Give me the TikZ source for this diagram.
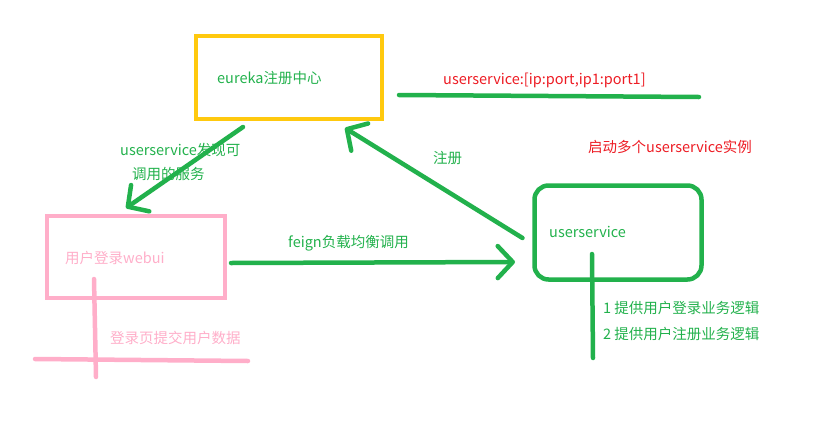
\documentclass[tikz,border=0pt]{standalone}
\usepackage{fontspec}
\setmainfont{Noto Sans CJK SC}
\usetikzlibrary{arrows.meta}
\definecolor{EurekaGreen}{HTML}{22B14C}
\definecolor{EurekaYellow}{HTML}{FFC90E}
\definecolor{EurekaPink}{HTML}{FFAEC9}
\definecolor{EurekaRed}{HTML}{ED1C24}

\begin{document}
\begin{tikzpicture}[x=1pt,y=-1pt,
    every node/.style={font=\fontsize{14.5}{17}\selectfont},
    box/.style={draw=#1,line width=4.5pt,outer sep=0pt},
    stroke/.style={#1,line width=4.5pt,line cap=round},
    flow/.style={stroke=EurekaGreen,-{Straight Barb[round,length=15pt,width=32pt]}},
    tag/.style={anchor=west,inner sep=0pt,text=#1}]
    \useasboundingbox (0,0) rectangle (815,429);

    \node[box=EurekaYellow,minimum width=186pt,minimum height=83pt] (eureka) at (289,77.5) {};
    \node[box=EurekaPink,minimum width=178pt,minimum height=82pt] (webui) at (136,257) {};
    \node[box=EurekaGreen,rounded corners=14pt,minimum width=167pt,minimum height=94pt] (usersvc) at (618,232.5) {};

    \node[tag=EurekaGreen] (eurekalabel) at (217,78) {eureka注册中心};
    \node[tag=EurekaPink] (webuilabel) at (65,258) {用户登录webui};
    \node[tag=EurekaGreen] (usersvclabel) at (549,232) {userservice};

    % registry list
    \node[tag=EurekaRed] (reglist) at (443,80) {userservice:[ip:port,ip1:port1]};
    \draw[stroke=EurekaGreen] (399,95) -- (699,97);
    \node[tag=EurekaRed] (instances) at (588,147) {启动多个userservice实例};

    % connectors
    \draw[flow] ([xshift=-46pt,yshift=-8pt]eureka.south) -- ([xshift=-10pt,yshift=8pt]webui.north);
    \node[tag=EurekaGreen] (discover) at (120,150) {userservice发现可};
    \node[tag=EurekaGreen] (discover2) at (132,174) {调用的服务};

    \draw[flow] ([xshift=-12pt,yshift=-5.5pt]usersvc.west) -- ([xshift=-37pt,yshift=-9pt]eureka.south east);
    \node[tag=EurekaGreen] (register) at (433,158) {注册};

    \draw[flow] ([xshift=6pt,yshift=-6pt]webui.east) -- ([xshift=-19.5pt,yshift=-29.5pt]usersvc.west);
    \node[tag=EurekaGreen] (feign) at (288,243) {feign负载均衡调用};

    % notes
    \draw[stroke=EurekaPink] (94,279) -- (96,377);
    \draw[stroke=EurekaPink] (35,359) -- (248,361);
    \node[tag=EurekaPink] (submit) at (110,338) {登录页提交用户数据};

    \draw[stroke=EurekaGreen] (592,254) -- (593,358);
    \node[tag=EurekaGreen] (logic1) at (603,308) {1 提供用户登录业务逻辑};
    \node[tag=EurekaGreen] (logic2) at (603,334) {2 提供用户注册业务逻辑};
  \end{tikzpicture}
\end{document}
